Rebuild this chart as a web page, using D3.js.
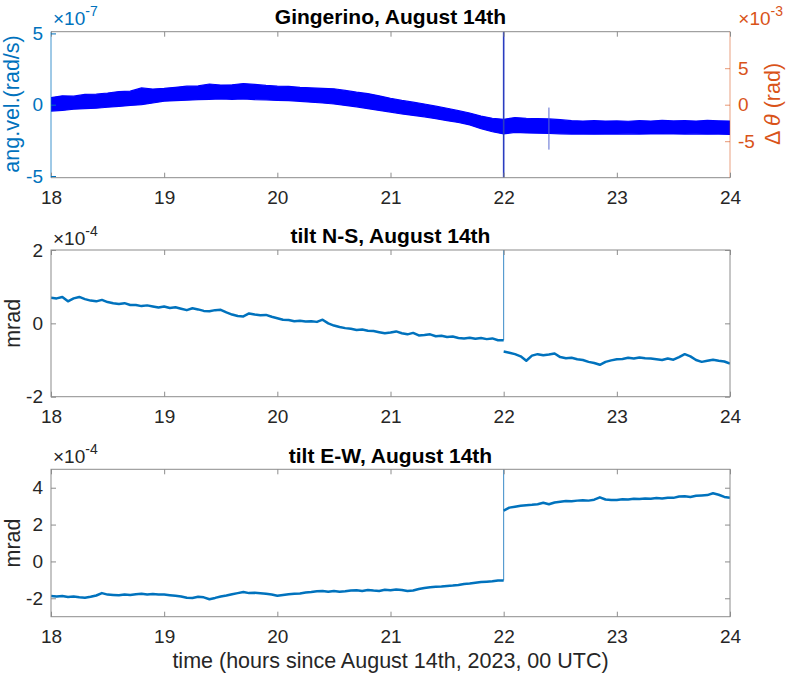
<!DOCTYPE html>
<html><head><meta charset="utf-8">
<script src="https://cdn.jsdelivr.net/npm/d3@7"></script>
<style>
body{margin:0;background:#fff}
svg text{font-family:"Liberation Sans",Arial,Helvetica,sans-serif}
</style>
</head><body>
<svg id="c" width="786" height="675"></svg>
<script>
// ---------- DATA ----------
const hourTicks = [18, 19, 20, 21, 22, 23, 24];
const angTicks = [-5, 0, 5];          // x 1e-7 rad/s
const thetaTicks = [-5, 0, 5];        // x 1e-3 rad
const nsTicks = [-2, 0, 2];           // x 1e-4 mrad
const ewTicks = [-2, 0, 2, 4];        // x 1e-4 mrad

// Gingerino angular velocity: noisy band, envelope every 0.1 h from 18 to 24 (x 1e-7)
const angStart = 18, angStep = 0.1;
const angUpper = [0.50,0.62,0.60,0.72,0.74,0.82,0.92,0.95,1.18,1.10,
                  1.15,1.22,1.30,1.32,1.45,1.38,1.40,1.48,1.42,1.35,
                  1.30,1.28,1.22,1.18,1.15,1.12,1.00,0.88,0.78,0.62,
                  0.45,0.30,0.18,0.05,-0.10,-0.25,-0.42,-0.58,-0.80,-0.95,
                  -1.02,-0.90,-0.95,-0.98,-1.00,-1.05,-1.12,-1.15,-1.12,-1.15,
                  -1.14,-1.16,-1.12,-1.15,-1.10,-1.14,-1.12,-1.15,-1.10,-1.13,-1.15];
const angLower = [-0.45,-0.40,-0.32,-0.28,-0.25,-0.18,-0.12,-0.05,0.00,0.12,
                  0.25,0.28,0.32,0.35,0.38,0.40,0.38,0.40,0.36,0.34,
                  0.30,0.28,0.24,0.18,0.12,0.05,-0.05,-0.15,-0.28,-0.40,
                  -0.52,-0.65,-0.75,-0.85,-0.98,-1.12,-1.25,-1.42,-1.68,-1.90,
                  -2.05,-1.94,-1.98,-2.00,-2.02,-2.04,-2.06,-2.05,-2.07,-2.05,
                  -2.06,-2.04,-2.06,-2.05,-2.03,-2.05,-2.06,-2.04,-2.07,-2.06,-2.08];
// glitches in the Gingerino trace: [hour, from, to] (x 1e-7)
const angSpikes = [[22.0, -6, 6], [22.4, -0.2, -3.15]];

// tilt N-S, every 0.05 h from 18 to 24 (x 1e-4 mrad)
const tiltStart = 18, tiltStep = 0.05;
const tiltNS = [0.70,0.68,0.72,0.60,0.68,0.72,0.66,0.62,0.60,0.64,
                0.58,0.55,0.53,0.55,0.50,0.50,0.47,0.49,0.46,0.43,
                0.46,0.42,0.44,0.40,0.36,0.41,0.38,0.34,0.33,0.36,
                0.37,0.30,0.24,0.20,0.19,0.27,0.24,0.22,0.23,0.18,
                0.14,0.10,0.09,0.06,0.07,0.05,0.06,0.04,0.10,0.00,
                -0.06,-0.10,-0.13,-0.15,-0.18,-0.17,-0.20,-0.21,-0.24,-0.27,
                -0.25,-0.22,-0.27,-0.30,-0.26,-0.33,-0.32,-0.30,-0.35,-0.34,
                -0.37,-0.36,-0.40,-0.41,-0.39,-0.42,-0.40,-0.43,-0.41,-0.46,
                -0.77,-0.80,-0.84,-0.90,-1.02,-0.88,-0.84,-0.87,-0.85,-0.82,
                -0.92,-0.95,-0.94,-0.98,-1.00,-1.05,-1.08,-1.13,-1.05,-1.01,
                -0.98,-0.97,-0.94,-0.96,-0.93,-0.95,-0.96,-0.98,-1.00,-0.96,
                -0.99,-0.92,-0.84,-0.90,-1.00,-1.05,-1.02,-0.99,-1.02,-1.04,-1.10];
const nsSpike = [22.0, -0.46, 2.5];

// tilt E-W, every 0.05 h from 18 to 24 (x 1e-4 mrad)
const tiltEW = [-1.87,-1.90,-1.88,-1.93,-1.90,-1.95,-1.97,-1.92,-1.85,-1.72,
                -1.80,-1.82,-1.84,-1.80,-1.82,-1.78,-1.76,-1.80,-1.77,-1.79,
                -1.80,-1.83,-1.86,-1.90,-1.97,-1.98,-1.92,-1.95,-2.05,-1.98,
                -1.90,-1.85,-1.78,-1.72,-1.66,-1.72,-1.70,-1.73,-1.76,-1.80,
                -1.86,-1.82,-1.78,-1.75,-1.74,-1.69,-1.66,-1.62,-1.60,-1.65,
                -1.60,-1.64,-1.62,-1.58,-1.56,-1.60,-1.55,-1.58,-1.60,-1.54,
                -1.56,-1.52,-1.55,-1.60,-1.58,-1.50,-1.44,-1.40,-1.38,-1.36,
                -1.33,-1.31,-1.28,-1.22,-1.20,-1.16,-1.12,-1.10,-1.08,-1.03,
                2.76,2.92,2.97,3.02,3.05,3.07,3.10,3.18,3.10,3.20,
                3.24,3.28,3.26,3.30,3.32,3.30,3.35,3.48,3.36,3.33,
                3.34,3.38,3.36,3.40,3.39,3.42,3.40,3.44,3.42,3.46,
                3.45,3.52,3.54,3.50,3.56,3.58,3.60,3.70,3.62,3.50,3.45];
const ewSpike = [22.0, -1.03, 5.5];

const titles = ["Gingerino, August 14th", "tilt N-S, August 14th", "tilt E-W, August 14th"];
const xLabel = "time (hours since August 14th, 2023, 00 UTC)";

// ---------- LAYOUT ----------
const C_BLUE = "#0072BD", C_ORANGE = "#D95319", C_TXT = "#262626", C_BOX = "#8c8c8c";
const FT = 19, FL = 21.5, FTI = 21;
const svg = d3.select("#c");
const x = d3.scaleLinear().domain([18, 24]).range([51, 730]);

const panels = [
  {top: 31.7, bot: 177.7, dom: [-5.12, 5.12]},
  {top: 250, bot: 396.7, dom: [-2, 2]},
  {top: 469.3, bot: 616.7, dom: [-3, 5]}
];
panels.forEach((p, i) => {
  p.y = d3.scaleLinear().domain(p.dom).range([p.bot, p.top]);
  const cid = "clip" + i;
  svg.append("clipPath").attr("id", cid).append("rect")
    .attr("x", x(18)).attr("y", p.top).attr("width", x(24) - x(18)).attr("height", p.bot - p.top);
  p.clip = "url(#" + cid + ")";
});

function xAxes(p, tickColor) {
  const gb = svg.append("g").attr("transform", `translate(0,${p.bot})`)
    .call(d3.axisBottom(x).tickValues(hourTicks).tickSize(-5).tickPadding(12.5).tickFormat(d3.format("d")));
  gb.select(".domain").remove();
  gb.selectAll("line").attr("stroke", C_BOX);
  gb.selectAll("text").attr("fill", tickColor).style("font-size", FT + "px");
  const gt = svg.append("g").attr("transform", `translate(0,${p.top})`)
    .call(d3.axisTop(x).tickValues(hourTicks).tickSize(-5).tickFormat(""));
  gt.select(".domain").remove();
  gt.selectAll("line").attr("stroke", C_BOX);
}
function yAxisLeft(p, ticks, color, lineColor) {
  const g = svg.append("g").attr("transform", `translate(${x(18)},0)`)
    .call(d3.axisLeft(p.y).tickValues(ticks).tickSize(-5).tickPadding(8).tickFormat(d => String(d)));
  g.select(".domain").remove();
  g.selectAll("line").attr("stroke", lineColor);
  g.selectAll("text").attr("fill", color).style("font-size", FT + "px");
}
function yAxisRightTicks(p, ticks) {
  const g = svg.append("g").attr("transform", `translate(${x(24)},0)`)
    .call(d3.axisRight(p.y).tickValues(ticks).tickSize(-5).tickFormat(""));
  g.select(".domain").remove();
  g.selectAll("line").attr("stroke", C_BOX);
}
function exponent(xp, yp, exp, color, anchor) {
  const t = svg.append("text").attr("x", xp).attr("y", yp).attr("fill", color)
    .attr("text-anchor", anchor || "start").style("font-size", FT + "px");
  t.append("tspan").text("\u00d710");
  t.append("tspan").attr("dy", -9).style("font-size", "14px").text(exp);
}
function title(p, txt, yp) {
  svg.append("text").attr("x", (x(18) + x(24)) / 2).attr("y", yp).attr("text-anchor", "middle")
    .attr("fill", "#000").style("font-size", FTI + "px").style("font-weight", "bold").text(txt);
}
function yLabel(txt, xp, yp, color) {
  svg.append("text").attr("transform", `translate(${xp},${yp}) rotate(-90)`)
    .attr("text-anchor", "middle").attr("fill", color).style("font-size", FL + "px").text(txt);
}

// ---------- PANEL 1: Gingerino ----------
{
  const p = panels[0];
  const yR = d3.scaleLinear().domain([-10, 10]).range([p.bot, p.top]);
  const band = angUpper.map((u, i) => ({h: angStart + i * angStep, u: u, l: angLower[i]}));
  svg.append("path").datum(band).attr("clip-path", p.clip)
    .attr("fill", "#0000ff").attr("stroke", "#0000ff").attr("stroke-width", 1.2)
    .attr("d", d3.area().x(d => x(d.h)).y0(d => p.y(d.l)).y1(d => p.y(d.u)));
  svg.append("g").attr("clip-path", p.clip).selectAll("line").data(angSpikes).join("line")
    .attr("x1", d => x(d[0])).attr("x2", d => x(d[0]))
    .attr("y1", d => p.y(d[1])).attr("y2", d => p.y(d[2]))
    .attr("stroke", (d, i) => i === 0 ? "#2a3cc0" : "#5a6ad0")
    .attr("stroke-width", (d, i) => i === 0 ? 1.6 : 1);
  // box
  svg.append("line").attr("x1", x(18)).attr("x2", x(24)).attr("y1", p.top).attr("y2", p.top).attr("stroke", C_BOX);
  svg.append("line").attr("x1", x(18)).attr("x2", x(24)).attr("y1", p.bot).attr("y2", p.bot).attr("stroke", C_BOX);
  svg.append("line").attr("x1", x(18)).attr("x2", x(18)).attr("y1", p.top).attr("y2", p.bot).attr("stroke", C_BLUE).attr("stroke-opacity", 0.75);
  svg.append("line").attr("x1", x(24)).attr("x2", x(24)).attr("y1", p.top).attr("y2", p.bot).attr("stroke", C_ORANGE).attr("stroke-opacity", 0.55);
  xAxes(p, C_TXT);
  yAxisLeft(p, angTicks, C_BLUE, C_BLUE);
  const gr = svg.append("g").attr("transform", `translate(${x(24)},0)`)
    .call(d3.axisRight(yR).tickValues(thetaTicks).tickSize(-5).tickPadding(8).tickFormat(d => String(d)));
  gr.select(".domain").remove();
  gr.selectAll("line").attr("stroke", C_ORANGE).attr("stroke-opacity", 0.6);
  gr.selectAll("text").attr("fill", C_ORANGE).style("font-size", FT + "px");
  exponent(x(18) + 2, 25, "-7", C_BLUE);
  exponent(783, 25, "-3", C_ORANGE, "end");
  title(p, titles[0], 24);
  yLabel("ang.vel.(rad/s)", 19, 104, C_BLUE);
  const rl = svg.append("text").attr("transform", `translate(780,104) rotate(-90)`)
    .attr("text-anchor", "middle").attr("fill", C_ORANGE).style("font-size", FL + "px");
  rl.append("tspan").text("\u0394 ");
  rl.append("tspan").style("font-style", "italic").text("\u03b8");
  rl.append("tspan").text(" (rad)");
}

// ---------- PANELS 2 & 3: tilts ----------
function tiltPanel(p, vals, spike, ticks, ttl, titleY, expY) {
  const pts = vals.map((v, i) => ({h: tiltStart + i * tiltStep, v: v}));
  const pre = pts.filter(d => d.h < spike[0] - 1e-9).concat([{h: spike[0], v: spike[1]}]);
  const post = pts.filter(d => d.h >= spike[0] - 1e-9);
  const g = svg.append("g").attr("clip-path", p.clip);
  const ln = d3.line().x(d => x(d.h)).y(d => p.y(d.v));
  g.append("line").attr("x1", x(spike[0])).attr("x2", x(spike[0]))
    .attr("y1", p.y(spike[1])).attr("y2", p.y(spike[2]))
    .attr("stroke", "#3a8ac8").attr("stroke-width", 1);
  [pre, post].forEach(seg => g.append("path").datum(seg).attr("fill", "none")
    .attr("stroke", C_BLUE).attr("stroke-width", 2.5).attr("stroke-linejoin", "round").attr("d", ln));
  svg.append("rect").attr("x", x(18)).attr("y", p.top).attr("width", x(24) - x(18)).attr("height", p.bot - p.top)
    .attr("fill", "none").attr("stroke", C_BOX);
  xAxes(p, C_TXT);
  yAxisLeft(p, ticks, C_TXT, C_BOX);
  yAxisRightTicks(p, ticks);
  exponent(x(18) + 2, expY, "-4", C_TXT);
  title(p, ttl, titleY);
  yLabel("mrad", 20, (p.top + p.bot) / 2, C_TXT);
}
tiltPanel(panels[1], tiltNS, nsSpike, nsTicks, titles[1], 243, 245);
tiltPanel(panels[2], tiltEW, ewSpike, ewTicks, titles[2], 463, 463);

svg.append("text").attr("x", (x(18) + x(24)) / 2).attr("y", 668).attr("text-anchor", "middle")
  .attr("fill", C_TXT).style("font-size", FL + "px").text(xLabel);
</script>
</body></html>
